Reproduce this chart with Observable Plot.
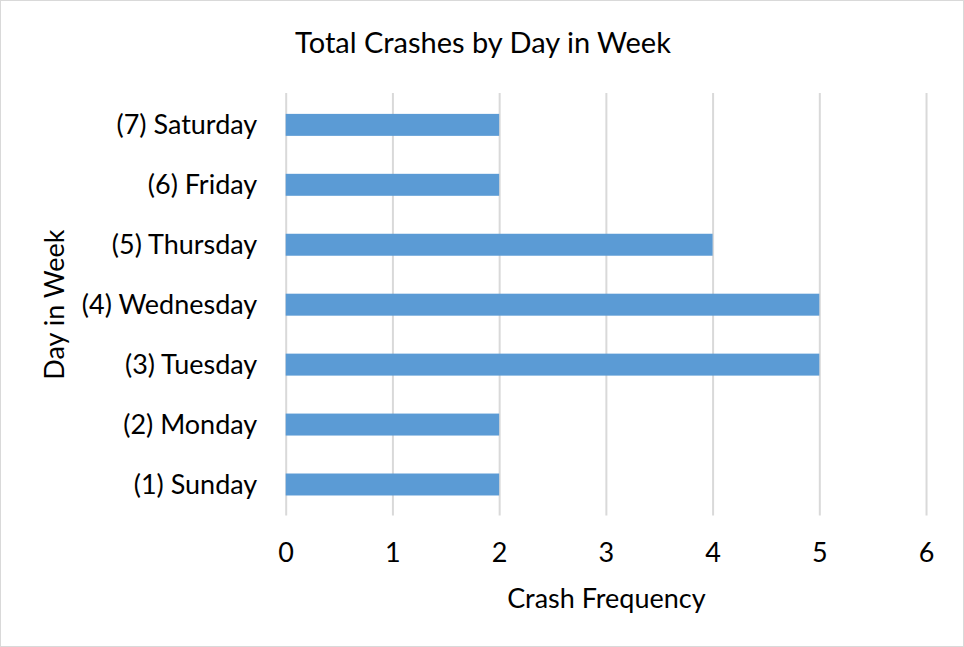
<!DOCTYPE html>
<html>
<head>
<meta charset="utf-8">
<script src="https://cdn.jsdelivr.net/npm/d3@7"></script>
<script src="https://cdn.jsdelivr.net/npm/@observablehq/plot@0.6"></script>
<style>
  html, body { margin: 0; padding: 0; background: #fff; }
  #wrap { position: relative; width: 962px; height: 645px; border: 1px solid #d9d9d9; overflow: hidden; font-family: Lato, "Open Sans", sans-serif; }
  #title { position: absolute; left: 0; width: 964px; top: 22px; text-align: center; font-size: 29px; color: #000; line-height: 38px; }
  #chart { position: absolute; left: -1px; top: -1px; }
</style>
</head>
<body>
<div id="wrap">
  <div id="chart"></div>
  <div id="title">Total Crashes by Day in Week</div>
</div>
<script>
const days = ["(1) Sunday", "(2) Monday", "(3) Tuesday", "(4) Wednesday", "(5) Thursday", "(6) Friday", "(7) Saturday"];
const crashes = [2, 2, 5, 5, 4, 2, 2];
const xTicks = [0, 1, 2, 3, 4, 5, 6];
const xTitle = "Crash Frequency";
const yTitle = "Day in Week";

const data = days.map((d, i) => ({day: d, value: crashes[i]}));

const chart = Plot.plot({
  width: 964,
  height: 647,
  marginLeft: 286,
  marginRight: 37,
  marginTop: 93,
  marginBottom: 131,
  style: {fontFamily: "Lato, 'Open Sans', sans-serif", fontSize: "27px", color: "#000", background: "transparent"},
  x: {domain: [0, 6], ticks: xTicks},
  y: {domain: days.slice().reverse(), paddingInner: 0.64, paddingOuter: 0.32},
  marks: [
    Plot.gridX(xTicks, {stroke: "#d9d9d9", strokeOpacity: 1, strokeWidth: 2}),
    Plot.barX(data, {x: "value", y: "day", fill: "#5b9bd5"}),
    Plot.axisX(xTicks, {tickSize: 0, tickPadding: 27, fontSize: 27, label: null}),
    Plot.axisY({tickSize: 0, tickPadding: 29, fontSize: 27, label: null}),
    Plot.text([yTitle], {frameAnchor: "left", textAnchor: "middle", rotate: -90, dx: -231, fontSize: 27}),
    Plot.text([xTitle], {frameAnchor: "bottom", dy: 92, fontSize: 27})
  ]
});
document.getElementById("chart").appendChild(chart);
</script>
</body>
</html>
